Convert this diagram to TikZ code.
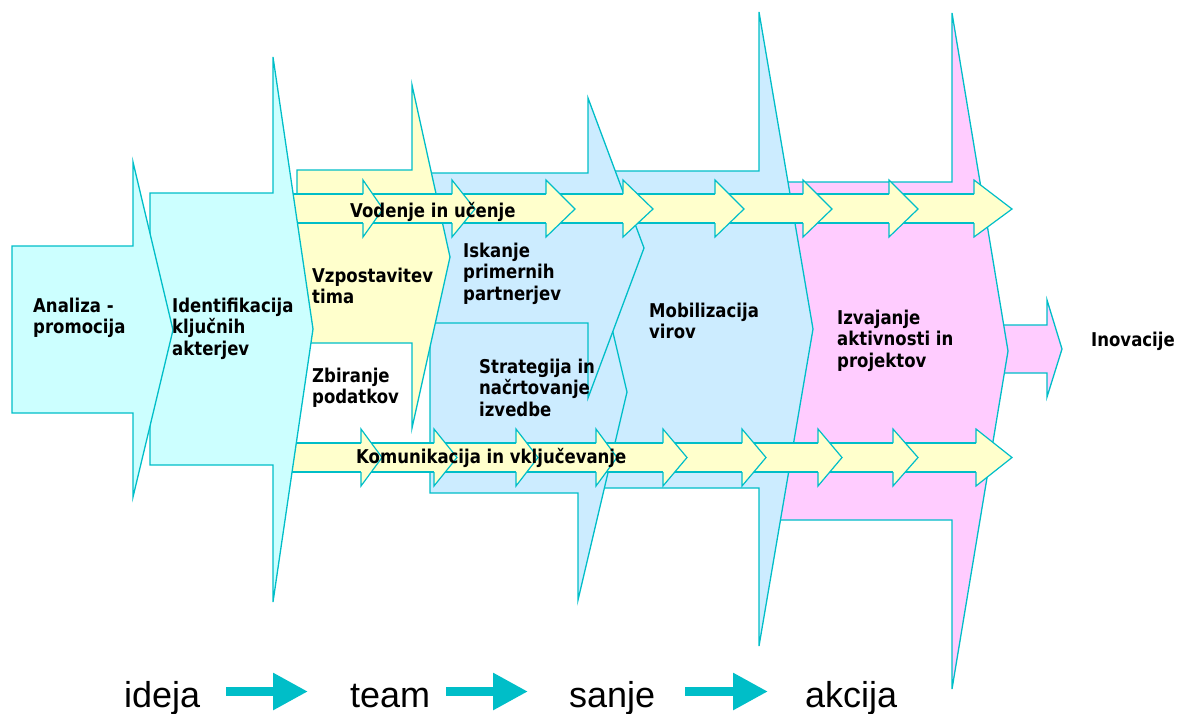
\documentclass[tikz,border=0pt]{standalone}
\usepackage{fontspec}
\usetikzlibrary{arrows.meta}
\newfontfamily\lblfont[FakeStretch=0.87]{DejaVu Sans}
\newfontfamily\flowfont{Liberation Sans}

\definecolor{edgeteal}{RGB}{0,190,200}
\definecolor{cyanfill}{HTML}{CCFFFF}
\definecolor{creamfill}{HTML}{FFFFCC}
\definecolor{skyfill}{HTML}{CCECFF}
\definecolor{rosefill}{HTML}{FFCCFF}

% phase arrow: fill, left x, body top, body bottom, barb x, barb top, barb bottom, tip x, tip y
\newcommand{\phasearrow}[9]{%
  \filldraw[phase,fill=#1] (#2,#3) -- (#5,#3) -- (#5,#6) -- (#8,#9) -- (#5,#7) -- (#5,#4) -- (#2,#4) -- cycle;}

\begin{document}
\begin{tikzpicture}[x=1pt,y=-1pt,
  phase/.style={draw=edgeteal,line width=1.3pt,line join=miter},
  bandline/.style={draw=edgeteal,line width=1.2pt,line join=miter},
  lbl/.style={anchor=base west,inner sep=0pt,align=left,font=\lblfont\bfseries\fontsize{19}{21.7}\selectfont},
  flowword/.style={anchor=base west,inner sep=0pt,font=\flowfont\fontsize{36}{40}\selectfont},
  flowarrow/.style={draw=edgeteal,line width=9pt,-{Triangle[length=35pt,width=35pt]}}]

\useasboundingbox (0,0) rectangle (1180,713);

% phases, drawn from right to left so that each one lies over the next
\phasearrow{rosefill}{990}{325}{373}{1047}{300}{397}{1062}{349}
\phasearrow{rosefill}{775}{182}{520}{952}{13}{689}{1008}{351}
\phasearrow{skyfill}{600}{171}{488}{759}{12}{646}{813}{329}
\phasearrow{skyfill}{430}{291}{493}{578}{184}{600}{627}{392}
\phasearrow{skyfill}{425}{173}{323}{588}{98}{398}{644}{248}
\phasearrow{creamfill}{297}{170}{343}{412}{85}{428}{450}{257}

% upper band of chained arrows
\fill[creamfill] (285,194) rectangle (974,223);
\draw[bandline] (285,194) -- (974,194) (285,223) -- (974,223);
\foreach \b/\t in {363/383,452/475,546/575,623/653,715/744,803/832,889/918,974/1012}{
  \fill[creamfill] (\b,180) -- (\t,209) -- (\b,237) -- cycle;
  \draw[bandline] (\b,194) -- (\b,180) -- (\t,209) -- (\b,237) -- (\b,223);
}

% lower band of chained arrows
\fill[creamfill] (285,443) rectangle (976,472);
\draw[bandline] (285,443) -- (976,443) (285,472) -- (976,472);
\foreach \b/\t in {361/382,434/457,516/538,596/617,663/687,742/766,818/842,893/918,976/1012}{
  \fill[creamfill] (\b,429) -- (\t,457.5) -- (\b,486) -- cycle;
  \draw[bandline] (\b,443) -- (\b,429) -- (\t,457.5) -- (\b,486) -- (\b,472);
}

\phasearrow{cyanfill}{150}{193}{465}{273}{57}{602}{313}{329}
\phasearrow{cyanfill}{12}{246}{413}{133}{162}{497}{173}{330}

% labels (placed at the baseline of their last line)
\node[lbl] (analiza) at (33,333.7) {Analiza -\\promocija};
\node[lbl] (identifikacija) at (172,355.4) {Identifikacija\\ključnih\\akterjev};
\node[lbl] (vzpostavitev) at (312,303.7) {Vzpostavitev\\tima};
\node[lbl] (zbiranje) at (312,403.7) {Zbiranje\\podatkov};
\node[lbl] (iskanje) at (463,300.4) {Iskanje\\primernih\\partnerjev};
\node[lbl] (strategija) at (479,416.4) {Strategija in\\načrtovanje\\izvedbe};
\node[lbl] (mobilizacija) at (649,338.7) {Mobilizacija\\virov};
\node[lbl] (izvajanje) at (837,367.4) {Izvajanje\\aktivnosti in\\projektov};
\node[lbl] (inovacije) at (1091,346) {Inovacije};
\node[lbl] (vodenje) at (350,217) {Vodenje in učenje};
\node[lbl] (komunikacija) at (356,463) {Komunikacija in vključevanje};

% bottom sequence
\node[flowword] (ideja) at (124,707) {ideja};
\node[flowword] (team) at (350,707) {team};
\node[flowword] (sanje) at (569,707) {sanje};
\node[flowword] (akcija) at (805,707) {akcija};
\coordinate (f1a) at (226,691.5); \coordinate (f1b) at (308,691.5);
\coordinate (f2a) at (446,691.5); \coordinate (f2b) at (528,691.5);
\coordinate (f3a) at (685,691.5); \coordinate (f3b) at (768,691.5);
\draw[flowarrow] (f1a) -- (f1b);
\draw[flowarrow] (f2a) -- (f2b);
\draw[flowarrow] (f3a) -- (f3b);

\end{tikzpicture}
\end{document}
